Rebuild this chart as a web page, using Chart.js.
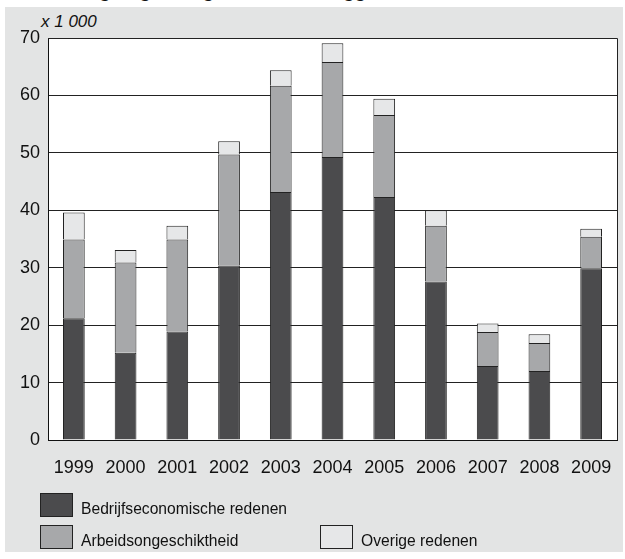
<!DOCTYPE html>
<html lang="nl">
<head>
  <meta charset="UTF-8">
  <title>Ontslagvergunningen naar ontslaggrond</title>
  <script src="https://cdn.jsdelivr.net/npm/chart.js"></script>
  <style>
    html, body { margin: 0; padding: 0; background: #ffffff; }
    body { width: 625px; height: 559px; position: relative; overflow: hidden;
           font-family: 'Liberation Sans', Arial, sans-serif; color: #111; }
    .titel { position: absolute; left: 0; top: 0; width: 625px; height: 7px; overflow: hidden; }
    .titel span { position: absolute; left: 40px; top: -20px; font-size: 19px; font-weight: bold; white-space: nowrap; }
    .paneel { position: absolute; left: 5px; top: 7px; width: 618px; height: 545px; background: #e3e4e4; }
    .eenheid { position: absolute; left: 41px; top: 12px; font-size: 17px; font-style: italic; }
    #grafiek { position: absolute; left: 0; top: 0; }
    .leg { position: absolute; font-size: 17px; display: flex; align-items: center; }
    .leg i { display: inline-block; width: 31px; height: 22px; border: 1px solid #222; margin-right: 8px; }
    .leg span { display: inline-block; position: relative; top: 4px; transform: scaleX(0.92); transform-origin: left center; }
  </style>
</head>
<body>
  <div class="titel"><span>Ontslagvergunningen naar ontslaggrond</span></div>
  <div class="paneel"></div>
  <div class="eenheid">x 1 000</div>
  <canvas id="grafiek" width="625" height="559"></canvas>

  <!-- legenda -->
  <div class="leg" style="left:40px; top:493px;"><i style="background:#4b4b4d"></i><span>Bedrijfseconomische redenen</span></div>
  <div class="leg" style="left:40px; top:525px;"><i style="background:#a7a8aa"></i><span>Arbeidsongeschiktheid</span></div>
  <div class="leg" style="left:320px; top:525px;"><i style="background:#e6e7e8"></i><span>Overige redenen</span></div>

  <script>
    // jaren en aantallen (x 1 000)
    const jaren = ['1999', '2000', '2001', '2002', '2003', '2004', '2005', '2006', '2007', '2008', '2009'];
    const bedrijfseconomisch = [21.2, 15.2, 18.9, 30.4, 43.2, 49.3, 42.3, 27.6, 12.9, 12.0, 29.9];
    const arbeidsongeschikt = [13.7, 15.7, 16.0, 19.3, 18.5, 16.5, 14.3, 9.7, 5.9, 4.9, 5.5];
    const overige = [4.7, 2.2, 2.4, 2.3, 2.7, 3.3, 2.8, 2.7, 1.5, 1.5, 1.4];

    // witte plotachtergrond en kader
    const kader = {
      id: 'kader',
      beforeDraw(chart) {
        const a = chart.chartArea, c = chart.ctx;
        c.save();
        c.fillStyle = '#ffffff';
        c.fillRect(a.left, a.top, a.right - a.left, a.bottom - a.top);
        c.restore();
      },
      afterDraw(chart) {
        const a = chart.chartArea, c = chart.ctx;
        c.save();
        c.strokeStyle = '#222';
        c.lineWidth = 1;
        c.beginPath();
        c.moveTo(a.left, a.top + 0.5);
        c.lineTo(a.right + 0.5, a.top + 0.5);
        c.lineTo(a.right + 0.5, a.bottom);
        c.stroke();
        c.restore();
      }
    };

    const staaf = { borderColor: '#222', borderWidth: 1, barPercentage: 0.42, categoryPercentage: 1 };

    new Chart(document.getElementById('grafiek'), {
      type: 'bar',
      data: {
        labels: jaren,
        datasets: [
          Object.assign({ label: 'Bedrijfseconomische redenen', data: bedrijfseconomisch, backgroundColor: '#4b4b4d' }, staaf),
          Object.assign({ label: 'Arbeidsongeschiktheid', data: arbeidsongeschikt, backgroundColor: '#a7a8aa' }, staaf),
          Object.assign({ label: 'Overige redenen', data: overige, backgroundColor: '#e6e7e8' }, staaf)
        ]
      },
      options: {
        responsive: false,
        animation: false,
        layout: { padding: { left: 0, right: 8, top: 38, bottom: 0 } },
        plugins: { legend: { display: false }, tooltip: { enabled: false } },
        scales: {
          x: {
            stacked: true,
            grid: { display: false },
            border: { color: '#111', width: 1 },
            ticks: { color: '#111', padding: 9, font: { family: 'Liberation Sans', size: 18 } },
            afterFit(s) { s.height = 119; }
          },
          y: {
            stacked: true,
            min: 0,
            max: 70,
            grid: { color: '#222', drawTicks: false },
            border: { color: '#111', width: 1 },
            ticks: { stepSize: 10, color: '#111', padding: 8, font: { family: 'Liberation Sans', size: 18 } },
            afterFit(s) { s.width = 48; }
          }
        }
      },
      plugins: [kader]
    });
  </script>
</body>
</html>
